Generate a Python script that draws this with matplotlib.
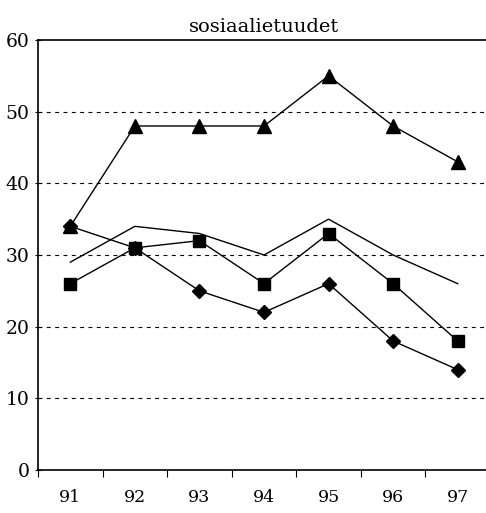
import matplotlib

matplotlib.use("Agg")
import matplotlib.pyplot as plt
import numpy as np

years = ["91", "92", "93", "94", "95", "96", "97"]
triangles = [34, 48, 48, 48, 55, 48, 43]
squares = [26, 31, 32, 26, 33, 26, 18]
diamonds = [34, 31, 25, 22, 26, 18, 14]
plain = [29, 34, 33, 30, 35, 30, 26]
y_ticks = [0, 10, 20, 30, 40, 50, 60]

plt.rcParams["font.family"] = ["DejaVu Serif"]

fig = plt.figure(figsize=(4.86, 5.13), dpi=100)
ax = fig.add_axes([38 / 486, 43 / 513, 452 / 486, 430 / 513])

x = np.arange(1, len(years) + 1)
ax.plot(x, plain, color="black", lw=1.0)
ax.plot(x, squares, color="black", lw=1.0, marker="s", markersize=8.5)
ax.plot(x, diamonds, color="black", lw=1.0, marker="D", markersize=7)
ax.plot(x, triangles, color="black", lw=1.0, marker="^", markersize=10)

ax.set_xlim(0.5, len(years) + 0.5)
ax.set_ylim(0, 60)

for v in y_ticks[1:-1]:
    ax.axhline(v, color="black", lw=0.8, ls=(0, (3.5, 4)), zorder=0)

ax.set_xticks(x)
ax.set_xticklabels(years, fontsize=12.5)
ax.set_xticks(np.arange(0.5, len(years) + 1), minor=True)
ax.tick_params(axis="x", which="major", length=0, pad=14)
ax.tick_params(axis="x", which="minor", length=5, width=0.8, direction="out")
ax.set_yticks(y_ticks)
ax.set_yticklabels([str(v) for v in y_ticks], fontsize=13.5)
ax.tick_params(axis="y", length=4, width=0.8, direction="inout", pad=4)

for side in ["left", "top", "bottom"]:
    ax.spines[side].set_linewidth(1.2)
ax.spines["right"].set_visible(False)

ax.set_title("sosiaalietuudet", fontsize=14, pad=6)

fig.savefig("out.png", dpi=100)
